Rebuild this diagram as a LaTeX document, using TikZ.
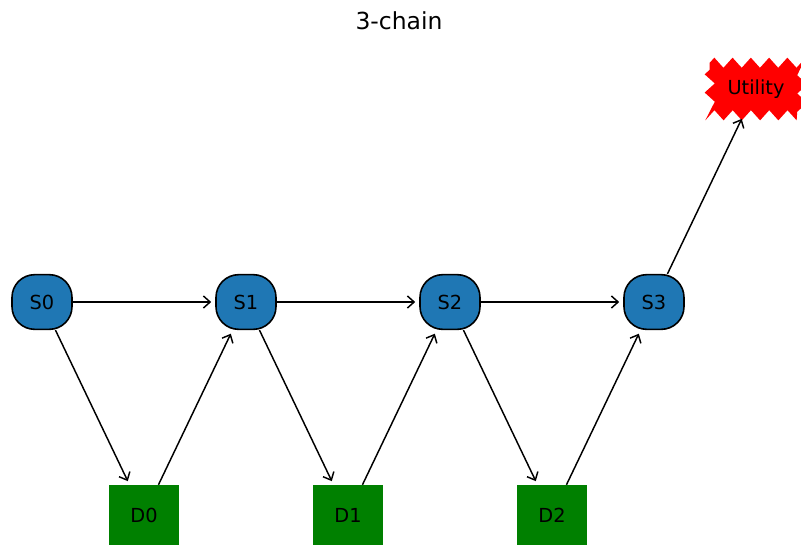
\documentclass[tikz,border=0pt]{standalone}
\usepackage{fontspec}
\setmainfont{DejaVu Sans}
\usetikzlibrary{arrows.meta}
\usetikzlibrary{decorations.pathmorphing}
\usetikzlibrary{backgrounds}

\definecolor{stateblue}{RGB}{31,119,180}
\definecolor{decgreen}{RGB}{0,128,0}

\tikzset{
	state/.style={draw=black, line width=1.2pt, fill=stateblue, rounded corners=17pt, minimum width=45pt, minimum height=41pt, inner sep=0pt, font=\fontsize{14.5}{16}\selectfont},
	decision/.style={fill=decgreen, minimum width=52pt, minimum height=45pt, inner sep=0pt, font=\fontsize{14.5}{16}\selectfont},
	utility/.style={minimum width=69pt, minimum height=39pt, inner sep=0pt, font=\fontsize{14.5}{16}\selectfont},
	link/.style={-{Straight Barb[length=5pt, width=9pt, line width=1.1pt]}, line width=1.1pt, shorten >=3pt}
}

\begin{document}
\begin{tikzpicture}[x=0.75pt,y=0.75pt,yscale=-1,xscale=1]
	\useasboundingbox (0,0) rectangle (801,544);

	% Title
	\node (title) at (399,21) {\fontsize{17.6}{20}\selectfont 3-chain};

	% States
	\node [state] (S0) at (42,302) {S0};
	\node [state] (S1) at (246,302) {S1};
	\node [state] (S2) at (450,302) {S2};
	\node [state] (S3) at (654,302) {S3};

	% Decisions
	\node [decision] (D0) at (144,515) {D0};
	\node [decision] (D1) at (348,515) {D1};
	\node [decision] (D2) at (552,515) {D2};

	% Utility
	\node [utility] (U) at (756,89) {Utility};
	\begin{scope}[on background layer]
	\fill [red, decorate, decoration={zigzag, segment length=13.7pt, amplitude=3.8pt}] (U.north west) -- (U.north east) -- (U.south east) -- (U.south west) -- cycle;
	\end{scope}

	% Links
	\draw [link] (S0) -- (S1);
	\draw [link] (S1) -- (S2);
	\draw [link] (S2) -- (S3);
	\draw [link] (S0) -- (D0);
	\draw [link] (D0) -- (S1);
	\draw [link] (S1) -- (D1);
	\draw [link] (D1) -- (S2);
	\draw [link] (S2) -- (D2);
	\draw [link] (D2) -- (S3);
	\draw [link] (S3) -- (U);

\end{tikzpicture}
\end{document}
